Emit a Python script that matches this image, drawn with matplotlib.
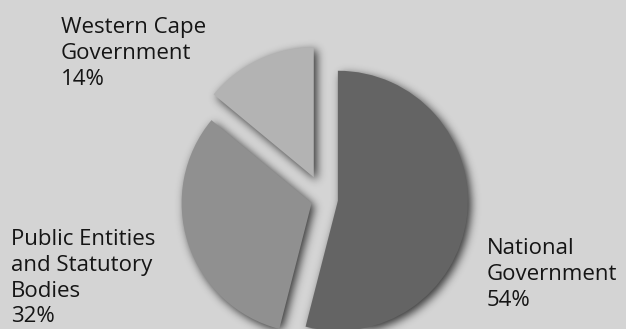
import numpy as np
import matplotlib
matplotlib.use("Agg")
import matplotlib.pyplot as plt

# ---- data ----
categories = ["National\nGovernment", "Public Entities\nand Statutory\nBodies", "Western Cape\nGovernment"]
shares = [54, 32, 14]

# ---- style / layout ----
slice_colors = ["#646464", "#909090", "#b3b3b3"]
explode = [14, 13, 24]          # offsets in pixels (data units)
bg = "#d4d4d4"
W, H = 626, 329
pie_center = (324, H - 199)
pie_radius = 130
label_pos = [(487, H - 238), (11, H - 229), (61, H - 17)]

plt.rcParams["font.family"] = ["Open Sans", "DejaVu Sans"]

fig = plt.figure(figsize=(W / 100, H / 100), dpi=100)
fig.patch.set_facecolor(bg)
ax = fig.add_axes([0, 0, 1, 1])
ax.set_facecolor(bg)

wedges, _ = ax.pie(shares, colors=slice_colors, startangle=90, counterclock=False,
                   explode=explode, center=pie_center, radius=pie_radius,
                   wedgeprops=dict(linewidth=0, zorder=2))
ax.set_xlim(0, W)
ax.set_ylim(0, H)
ax.set_aspect("equal", adjustable="box")
ax.axis("off")

# ---- blurred drop shadow computed from the wedge shapes ----
xs = np.arange(W) + 0.5
ys = np.arange(H) + 0.5
XX, YY = np.meshgrid(xs, ys)
pts = np.column_stack([XX.ravel(), YY.ravel()])
mask = np.zeros(W * H, dtype=float)
for w in wedges:
    p = w.get_path().transformed(w.get_patch_transform())
    mask = np.maximum(mask, p.contains_points(pts).astype(float))
mask = mask.reshape(H, W)
# shift right and down (row 0 = bottom, origin lower)
dx, dy = 3, 3
shifted = np.zeros_like(mask)
shifted[: H - dy, dx:] = mask[dy:, : W - dx]
sigma = 4.5
r = int(3 * sigma)
k = np.exp(-0.5 * (np.arange(-r, r + 1) / sigma) ** 2)
k /= k.sum()
blur = np.apply_along_axis(lambda m: np.convolve(m, k, mode="same"), 1, shifted)
blur = np.apply_along_axis(lambda m: np.convolve(m, k, mode="same"), 0, blur)
rgba = np.zeros((H, W, 4))
rgba[..., 3] = np.clip(blur * 0.75, 0, 1)
ax.imshow(rgba, extent=(0, W, 0, H), origin="lower", zorder=1, interpolation="bilinear")
ax.set_xlim(0, W)
ax.set_ylim(0, H)

for cat, val, (x, y) in zip(categories, shares, label_pos):
    ax.text(x, y, f"{cat}\n{val}%", ha="left", va="top", fontsize=16,
            color="#151515", linespacing=1.3, zorder=3)

fig.savefig("out.png", dpi=100, facecolor=bg)
